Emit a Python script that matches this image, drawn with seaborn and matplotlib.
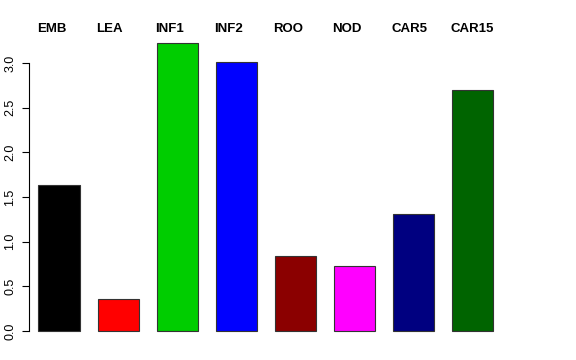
import matplotlib
matplotlib.use("Agg")
import matplotlib.pyplot as plt
import matplotlib.transforms as mtransforms
import seaborn as sns
import pandas as pd

categories = ["EMB", "LEA", "INF1", "INF2", "ROO", "NOD", "CAR5", "CAR15"]
values = [1.63, 0.355, 3.22, 3.01, 0.835, 0.73, 1.31, 2.70]
colors = ["#000000", "#FF0000", "#00CD00", "#0000FF", "#8B0000", "#FF00FF", "#000080", "#006400"]
yticks = [0.0, 0.5, 1.0, 1.5, 2.0, 2.5, 3.0]

sns.set_style("white")
plt.rcParams["font.family"] = ["Liberation Sans", "DejaVu Sans"]
plt.rcParams["text.color"] = "black"
plt.rcParams["ytick.color"] = "black"
plt.rcParams["ytick.labelcolor"] = "black"

df = pd.DataFrame({"cat": categories, "val": values})

fig = plt.figure(figsize=(5.76, 3.6), dpi=100)
ax = fig.add_axes([29 / 576, 18 / 360, (511 - 29) / 576, (342 - 32) / 360])

sns.barplot(data=df, x="cat", y="val", hue="cat", palette=colors, legend=False,
            width=0.695, saturation=1, edgecolor="#333333", linewidth=0.8, ax=ax)

ax.set_xlim(-0.508, 7.65)
ax.set_ylim(-0.123, 3.347)
ax.set_xlabel("")
ax.set_ylabel("")
ax.set_xticks([])

for s in ["top", "right", "bottom"]:
    ax.spines[s].set_visible(False)
ax.spines["left"].set_bounds(0, 3)
ax.spines["left"].set_color("black")
ax.spines["left"].set_linewidth(0.8)
ax.set_yticks(yticks)
ax.set_yticklabels([f"{t:.1f}" for t in yticks], rotation=90, va="center", fontsize=9, color="black")
ax.tick_params(axis="y", direction="out", length=5, width=0.8, color="black", pad=4, left=True,
               labelcolor="black")

trans = mtransforms.blended_transform_factory(ax.transData, ax.transAxes)
for i, c in enumerate(categories):
    ax.annotate(c, xy=(i - 0.37, 1.0), xycoords=trans, xytext=(0, 0), textcoords="offset pixels",
                ha="left", va="baseline", fontsize=9.5, fontweight="bold", color="black")

fig.savefig("out.png", dpi=100)
